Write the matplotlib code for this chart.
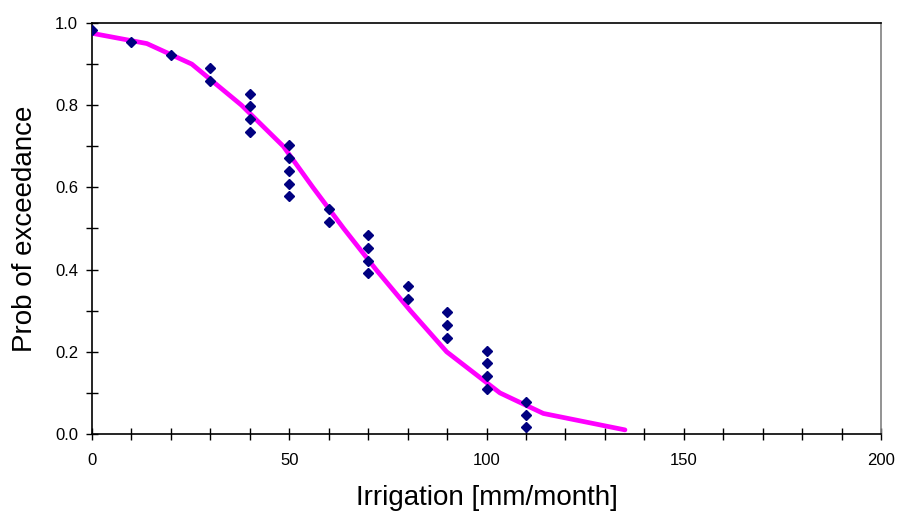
import matplotlib; matplotlib.use("Agg")
import matplotlib.pyplot as plt
from matplotlib.ticker import MultipleLocator

# observed points (irrigation, plotting-position probability)
obs_x = [0, 10, 20, 30, 30, 40, 40, 40, 40, 50, 50, 50, 50, 50, 60, 60,
         70, 70, 70, 70, 80, 80, 90, 90, 90, 100, 100, 100, 100, 110, 110, 110]
obs_p = [0.984, 0.953, 0.922, 0.891, 0.859, 0.828, 0.797, 0.766, 0.734,
         0.703, 0.672, 0.641, 0.609, 0.578, 0.547, 0.516, 0.484, 0.453,
         0.422, 0.391, 0.359, 0.328, 0.297, 0.266, 0.234, 0.203, 0.172,
         0.141, 0.109, 0.078, 0.047, 0.016]

# fitted exceedance curve
fit_x = [0, 13.9, 25.3, 37.9, 48.5, 56.0, 63.8, 72.0, 80.7, 89.9, 103.4, 114.4, 135.1]
fit_p = [0.975, 0.95, 0.90, 0.80, 0.70, 0.60, 0.50, 0.40, 0.30, 0.20, 0.10, 0.05, 0.01]

plt.rcParams["font.family"] = ["Liberation Sans", "DejaVu Sans"]

fig = plt.figure(figsize=(8.98, 5.17), dpi=100)
ax = fig.add_axes([92/898, 1-434/517, (881-92)/898, (434-23)/517])

ax.plot(fit_x, fit_p, color="#ff00ff", lw=3.4, solid_capstyle="round", zorder=2)
ax.plot(obs_x, obs_p, ls="none", marker="D", ms=5.0, color="#000080", zorder=3)

ax.set_xlim(0, 200)
ax.set_ylim(0, 1.0)
ax.xaxis.set_major_locator(MultipleLocator(50))
ax.xaxis.set_minor_locator(MultipleLocator(10))
ax.yaxis.set_major_locator(MultipleLocator(0.2))
ax.yaxis.set_minor_locator(MultipleLocator(0.1))
ax.yaxis.set_major_formatter(plt.FuncFormatter(lambda v, _: f"{v:.1f}"))
ax.tick_params(which="both", direction="inout", length=8, width=1.0, color="black",
               labelsize=12)
ax.tick_params(axis="x", pad=10)
ax.tick_params(axis="y", pad=6)

for s in ["left", "bottom", "top"]:
    ax.spines[s].set_color("black")
    ax.spines[s].set_linewidth(1.2)
ax.spines["right"].set_color("#808080")
ax.spines["right"].set_linewidth(1.2)

ax.set_xlabel("Irrigation [mm/month]", fontsize=20, labelpad=12)
ax.set_ylabel("Prob of exceedance", fontsize=20, labelpad=12)

fig.savefig("out.png", dpi=100)
